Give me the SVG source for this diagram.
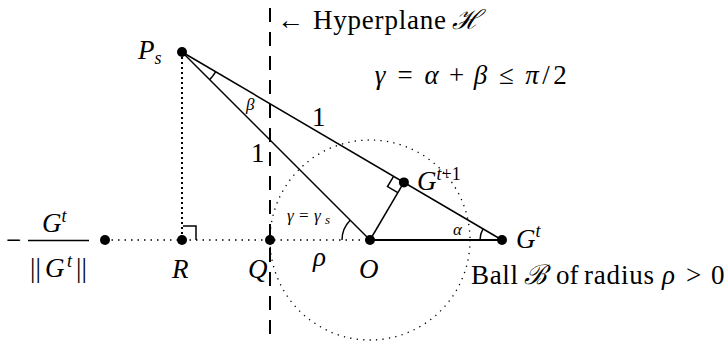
<svg xmlns="http://www.w3.org/2000/svg" width="726" height="343" viewBox="0 0 726 343">
<style>
.t{font-family:"Liberation Serif","DejaVu Serif",serif;font-size:27px;fill:#000}
.i{font-style:italic}
.s{font-size:17px}
.sup{font-size:18px}
.dot{fill:#000}
.ln{stroke:#000;stroke-width:1.5;fill:none}
.thick{stroke:#000;stroke-width:2;fill:none}
.dotted{stroke:#000;stroke-width:1.5;fill:none;stroke-dasharray:1.5 5}
.vdotted{stroke:#000;stroke-width:2;fill:none;stroke-dasharray:2 3}
.circ{stroke:#000;stroke-width:1.3;fill:none;stroke-dasharray:1.3 5.2}
.dash{stroke:#000;stroke-width:2;fill:none;stroke-dasharray:14 10}
</style>
<rect width="726" height="343" fill="#fff"/>
<g id="connectors">
  <circle class="circ" cx="370" cy="240" r="100"/>
  <line class="dash" x1="270" y1="8" x2="270" y2="343"/>
  <line class="dotted" x1="105" y1="240" x2="370" y2="240"/>
  <line class="vdotted" x1="182" y1="52" x2="182" y2="240"/>
  <line class="ln" x1="182" y1="52" x2="370" y2="240"/>
  <line class="ln" x1="182" y1="52" x2="502" y2="240"/>
  <line class="ln" x1="370" y1="240" x2="403.9" y2="182.4"/>
  <line class="thick" x1="370" y1="240" x2="502" y2="240"/>
  <path class="ln" d="M183,226 H196 V240"/>
  <path class="ln" d="M393.6,176.3 L387.5,186.6 L397.8,192.7"/>
  <path class="ln" d="M209.6,79.6 A39,39 0 0 0 215.6,71.8"/>
  <path class="ln" d="M342,240 A28,28 0 0 1 350.2,220.2"/>
  <path class="ln" d="M480,240 A22,22 0 0 1 483,228.9"/>
  <text class="t" x="312" y="126">1</text>
  <text class="t" x="251" y="162">1</text>
  <text class="t s i" x="246" y="110">β</text>
  <text class="t s" y="221"><tspan class="i" x="287">γ</tspan><tspan x="299">=</tspan><tspan class="i" x="314">γ</tspan><tspan class="i" font-size="13" x="325" dy="3">s</tspan></text>
  <text class="t s i" x="453" y="235">α</text>
  <text class="t i" x="313" y="266">ρ</text>
</g>
<g id="hyperplane">
  <text class="t" y="29"><tspan x="277">←</tspan><tspan x="313" textLength="133">Hyperplane</tspan><tspan class="i" x="452">ℋ</tspan></text>
</g>
<g id="equation">
  <text class="t" y="84" text-anchor="middle"><tspan class="i" x="380">γ</tspan><tspan x="405">=</tspan><tspan class="i" x="431.5">α</tspan><tspan x="456.5">+</tspan><tspan class="i" x="480.5">β</tspan><tspan x="506.5">≤</tspan><tspan class="i" x="532">π</tspan><tspan x="546">/</tspan><tspan x="560">2</tspan></text>
</g>
<g id="node-neg">
  <circle class="dot" cx="105" cy="240" r="5"/>
  <text class="t" x="6" y="249">−</text>
  <line class="ln" x1="28" y1="240.5" x2="89" y2="240.5"/>
  <text class="t" x="42" y="232"><tspan class="i">G</tspan><tspan class="i sup" dy="-10">t</tspan></text>
  <text class="t" y="277"><tspan x="30">||</tspan><tspan class="i" x="45">G</tspan><tspan class="i sup" x="67" dy="-10">t</tspan><tspan x="76" dy="10">||</tspan></text>
</g>
<g id="node-R">
  <circle class="dot" cx="182" cy="240" r="5"/>
  <text class="t i" x="172" y="278">R</text>
</g>
<g id="node-Q">
  <circle class="dot" cx="270" cy="240" r="5"/>
  <text class="t i" x="248" y="278">Q</text>
</g>
<g id="node-O">
  <circle class="dot" cx="370" cy="240" r="5"/>
  <text class="t i" x="359" y="278">O</text>
</g>
<g id="node-Gt">
  <circle class="dot" cx="502" cy="240" r="5"/>
  <text class="t" x="516" y="248"><tspan class="i">G</tspan><tspan class="i sup" dy="-11">t</tspan></text>
</g>
<g id="node-Gt1">
  <circle class="dot" cx="403.9" cy="182.4" r="5"/>
  <text class="t" x="417" y="190"><tspan class="i">G</tspan><tspan class="i sup" dy="-10">t</tspan><tspan class="sup">+1</tspan></text>
</g>
<g id="node-Ps">
  <circle class="dot" cx="182" cy="52" r="5"/>
  <text class="t" x="138" y="59"><tspan class="i">P</tspan><tspan class="i sup" dy="5">s</tspan></text>
</g>
<g id="ball">
  <text class="t" y="284"><tspan x="471" textLength="47">Ball</tspan><tspan class="i" x="524">ℬ</tspan><tspan x="556">of</tspan><tspan x="584" textLength="70">radius</tspan><tspan class="i" x="662">ρ</tspan><tspan x="686">&gt;</tspan><tspan x="711">0</tspan></text>
</g>
</svg>
